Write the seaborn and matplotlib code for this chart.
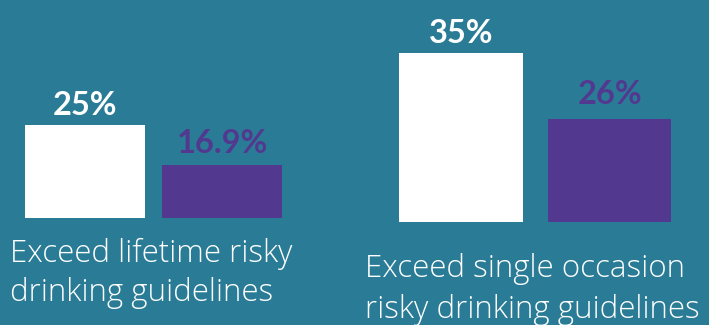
import matplotlib
matplotlib.use("Agg")
import matplotlib.pyplot as plt
import seaborn as sns
import pandas as pd

# Data
groups = ["Exceed lifetime risky\ndrinking guidelines",
          "Exceed single occasion\nrisky drinking guidelines"]
series = ["A", "B"]
lifetime_values = [25, 16.9]
single_values = [35, 26]
lifetime_labels = ["25%", "16.9%"]
single_labels = ["35%", "26%"]

BG = "#2a7c96"
WHITE = "#ffffff"
PURPLE = "#52398f"

sns.set_theme(style="white")
plt.rcParams["font.family"] = ["Lato", "DejaVu Sans"]

W, H = 709, 325
fig = plt.figure(figsize=(W / 100, H / 100), dpi=100)
fig.patch.set_facecolor(BG)


def px_axes(x0, x1, y_top, y_bot):
    return fig.add_axes([x0 / W, 1 - y_bot / H, (x1 - x0) / W, (y_bot - y_top) / H])


def draw_group(ax, values, labels, width, xlim, ylim, pads):
    df = pd.DataFrame({"series": series, "value": values})
    sns.barplot(data=df, x="series", y="value", hue="series",
                palette=[WHITE, PURPLE], saturation=1, width=width,
                legend=False, ax=ax, edgecolor="none", linewidth=0)
    ax.set_xlim(*xlim)
    ax.set_ylim(*ylim)
    ax.set_facecolor("none")
    ax.axis("off")
    for i, (v, lab) in enumerate(zip(values, labels)):
        ax.annotate(lab, xy=(i, v), xytext=(0, pads[i]), textcoords="offset points",
                    ha="center", va="baseline", fontsize=23.5, fontweight="bold",
                    color=[WHITE, PURPLE][i], annotation_clip=False)


# Left group
axL = px_axes(25, 282, 0, 218)
s_l = 40 / 8.1
base_l = 25 - 93 / s_l
draw_group(axL, lifetime_values, lifetime_labels, 120 / 137,
           (-0.438, 1.438), (base_l, base_l + 218 / s_l), [7.5, 8.5])

# Right group
axR = px_axes(398, 671, 0, 222)
s_r = 66 / 9
base_r = 35 - 169 / s_r
draw_group(axR, single_values, single_labels, 124 / 149.5,
           (-0.421, 1.405), (base_r, base_r + 222 / s_r), [7.5, 10.5])

# Category labels
label_pos = [(10, [262, 301]), (365, [277, 318])]
for text, (x, ys) in zip(groups, label_pos):
    for line, y in zip(text.split("\n"), ys):
        fig.text(x / W, 1 - y / H, line, ha="left", va="baseline",
                 fontsize=22.5, fontweight="light", color=WHITE,
                 family=["Open Sans", "DejaVu Sans"])

fig.savefig("out.png", dpi=100, facecolor=BG)
